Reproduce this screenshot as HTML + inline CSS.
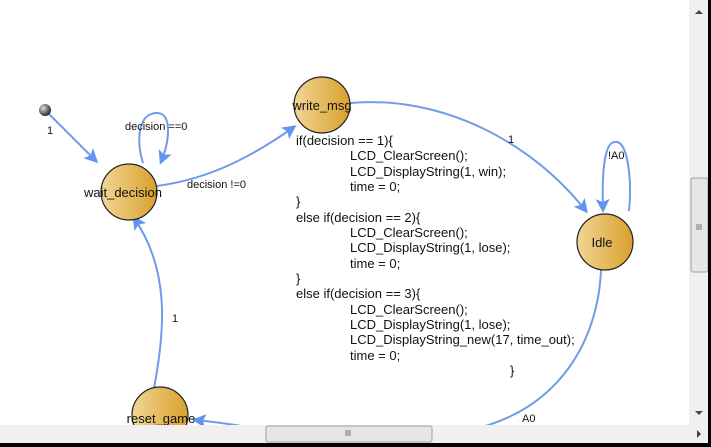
<!DOCTYPE html>
<html><head><style>
html,body{margin:0;padding:0;background:#fff;}
#w{position:relative;width:711px;height:447px;overflow:hidden;background:#fff;font-family:"Liberation Sans",Arial,sans-serif;}
</style></head><body><div id="w">
<svg width="711" height="447" viewBox="0 0 711 447" xmlns="http://www.w3.org/2000/svg" style="position:absolute;left:0;top:0">
<defs>
<linearGradient id="g" x1="0" y1="0" x2="1" y2="0">
<stop offset="0" stop-color="#f2d596"/><stop offset="1" stop-color="#d9a12c"/>
</linearGradient>
<radialGradient id="d" cx="0.35" cy="0.35" r="0.7"><stop offset="0" stop-color="#ddd"/><stop offset="1" stop-color="#222"/></radialGradient>
<marker id="a" markerWidth="14" markerHeight="14" refX="11" refY="7" orient="auto" markerUnits="userSpaceOnUse">
<path d="M0,0 L14,7 L0,14 L3,7 Z" fill="#6495ed"/></marker>
</defs>
<g fill="none" stroke="#6f9be8" stroke-width="2">
<path d="M49,114 L96,161" marker-end="url(#a)"/>
<path d="M143,163 C136,140 138,113 157,113 C172,113 170,140 161,162" marker-end="url(#a)"/>
<path d="M157,186 C200,180 240,165 294,127" marker-end="url(#a)"/>
<path d="M350,103 C440,95 530,140 586,211" marker-end="url(#a)"/>
<path d="M629,211 C632,180 628,140 615,142 C603,142 602,180 603,210" marker-end="url(#a)"/>
<path d="M601,270 C598,340 560,410 470,430"/>
<path d="M262,430 C240,425 215,422 195,420" marker-end="url(#a)"/>
<path d="M154,388 C165,330 170,270 134,218" marker-end="url(#a)"/>
</g>
<circle cx="45" cy="110" r="6" fill="url(#d)"/>
<g stroke="#222" stroke-width="1.2" fill="url(#g)">
<circle cx="129" cy="192" r="28"/>
<circle cx="322" cy="105" r="28"/>
<circle cx="605" cy="242" r="28"/>
<circle cx="160" cy="415" r="28"/>
</g>
<g font-family="Liberation Sans,Arial,sans-serif" fill="#111">
<g font-size="13" text-anchor="middle">
<text x="123" y="197">wait_decision</text>
<text x="322" y="110">write_msg</text>
<text x="602" y="247">Idle</text>
<text x="161" y="423">reset_game</text>
</g>
<g font-size="11">
<text x="47" y="134">1</text>
<text x="125" y="130">decision ==0</text>
<text x="187" y="188">decision !=0</text>
<text x="508" y="143">1</text>
<text x="608" y="159">!A0</text>
<text x="172" y="322">1</text>
<text x="522" y="422">A0</text>
</g>
<g font-size="13">
<text x="296" y="145">if(decision == 1){</text>
<text x="350" y="160">LCD_ClearScreen();</text>
<text x="350" y="176">LCD_DisplayString(1, win);</text>
<text x="350" y="191">time = 0;</text>
<text x="296" y="206">}</text>
<text x="296" y="222">else if(decision == 2){</text>
<text x="350" y="237">LCD_ClearScreen();</text>
<text x="350" y="252">LCD_DisplayString(1, lose);</text>
<text x="350" y="268">time = 0;</text>
<text x="296" y="283">}</text>
<text x="296" y="298">else if(decision == 3){</text>
<text x="350" y="314">LCD_ClearScreen();</text>
<text x="350" y="329">LCD_DisplayString(1, lose);</text>
<text x="350" y="344">LCD_DisplayString_new(17, time_out);</text>
<text x="350" y="360">time = 0;</text>
<text x="510" y="375">}</text>
</g>
</g>
<rect x="689" y="0" width="19" height="425" fill="#f0f0f0"/>
<rect x="691" y="178" width="17" height="94" rx="2" fill="#e6e6e6" stroke="#a0a0a0"/>
<path d="M696,225h6M696,227h6M696,229h6" stroke="#777"/>
<path d="M695,14 l4,-4 l4,4z" fill="#444"/>
<path d="M695,411 l4,4 l4,-4z" fill="#444"/>
<rect x="0" y="425" width="708" height="18" fill="#f0f0f0"/>
<rect x="266" y="426" width="166" height="16" rx="2" fill="#e6e6e6" stroke="#a0a0a0"/>
<path d="M346,430v6M348,430v6M350,430v6" stroke="#777"/>
<path d="M697,430 l4,4 l-4,4z" fill="#444"/>
<rect x="708" y="0" width="3" height="447" fill="#000"/>
<rect x="0" y="443" width="711" height="4" fill="#000"/>
</svg>
</div></body></html>
